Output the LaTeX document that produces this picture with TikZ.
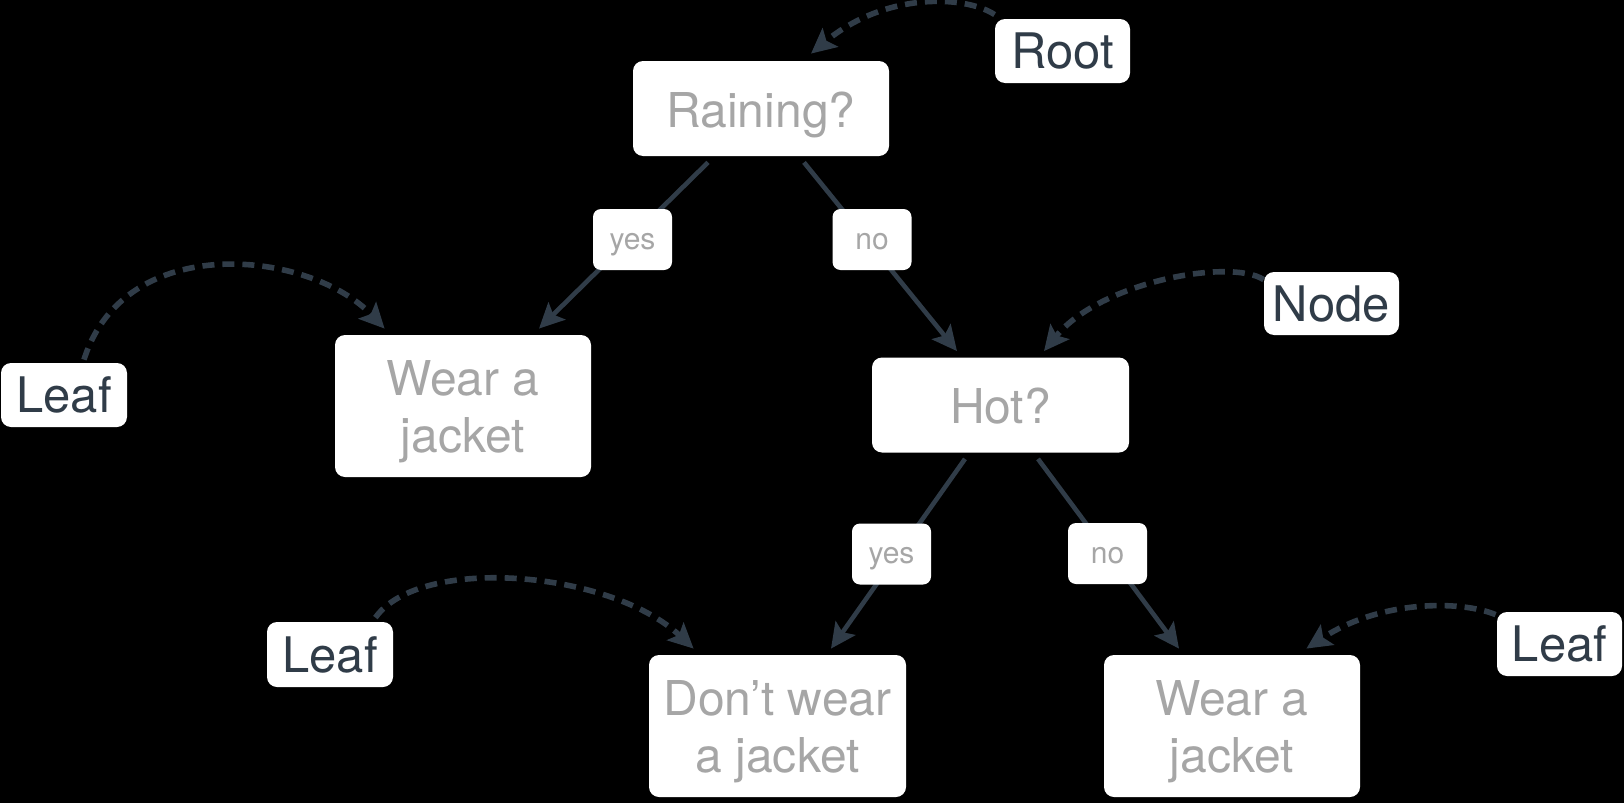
\documentclass[tikz,border=0pt]{standalone}
\usepackage{fontspec}
\setmainfont{TeX Gyre Heros}
\usetikzlibrary{arrows.meta,calc}
\definecolor{ink}{HTML}{303C48}
\definecolor{txtgray}{HTML}{A6A6A6}
\begin{document}
\begin{tikzpicture}[x=0.5pt,y=-0.5pt,
  bigbox/.style={fill=white, rounded corners=5pt, inner sep=0pt, align=center,
    text=txtgray, font=\fontsize{24}{28.5}\selectfont, minimum width=128pt},
  onebox/.style={bigbox, minimum height=47.5pt, text height=18.7pt, text depth=0pt},
  twobox/.style={bigbox, minimum height=71pt, text height=46.8pt, text depth=0pt},
  tagbox/.style={fill=white, rounded corners=5pt, inner sep=0pt, text=ink,
    font=\fontsize{24.5}{28.5}\selectfont, minimum height=32pt,
    text height=17.6pt, text depth=0pt},
  lblbox/.style={fill=white, rounded corners=4pt, inner sep=0pt, text=txtgray,
    font=\fontsize{15}{18}\selectfont, minimum width=39.5pt, minimum height=30.5pt,
    text height=9.8pt, text depth=0pt},
  edge/.style={draw=ink, line width=2.3pt, -{Stealth[length=12.5pt,width=12pt,inset=2.5pt]}},
  dedge/.style={draw=ink, line width=2.8pt, dash pattern=on 6pt off 4pt,
    -{Stealth[length=12.5pt,width=12pt,inset=2.5pt]}}
]
\fill[black] (0,0) rectangle (1624,803);
\useasboundingbox (0,0) rectangle (1624,803);

% main boxes
\node[onebox] (rain) at (761,108.5) {Raining?};
\node[twobox] (wl) at (463,406) {Wear a\\jacket};
\node[onebox, minimum width=128.5pt] (hot) at (1000.5,405) {Hot?};
\node[twobox, minimum width=128.5pt] (dont) at (777.5,726) {Don’t wear\\a jacket};
\node[twobox] (wr) at (1232,726) {Wear a\\jacket};

% tags
\node[tagbox, minimum width=67.5pt] (root) at (1062.5,51) {Root};
\node[tagbox, minimum width=63pt] (leafL) at (64,395) {Leaf};
\node[tagbox, minimum width=67.5pt, minimum height=31.5pt] (nodetag) at (1331.5,303.5) {Node};
\node[tagbox, minimum width=63pt, minimum height=32.5pt] (leafB) at (330,654.5) {Leaf};
\node[tagbox, minimum width=62.5pt] (leafR) at (1559.5,644) {Leaf};

% tree edges
\draw[edge] ($(rain.south)+(-53,6)$) -- ($(wl.north)+(76,-6)$);
\draw[edge] ($(rain.south)+(43,6)$) -- ($(hot.north)+(-43.5,-6)$);
\draw[edge] ($(hot.south)+(-35.5,6)$) -- ($(dont.north)+(53.5,-6)$);
\draw[edge] ($(hot.south)+(37.5,6)$) -- ($(wr.north)+(-53,-6)$);

% edge labels
\node[lblbox] (yes1) at (632.5,239.5) {yes};
\node[lblbox] (no1) at (872,239.5) {no};
\node[lblbox] (yes2) at (891.5,554) {yes};
\node[lblbox] (no2) at (1107.5,553.5) {no};

% dashed pointers
\draw[dedge] ($(root.north west)+(0,-4)$) .. controls (965,-5) and (885,-8) .. ($(rain.north)+(50,-7)$);
\draw[dedge] ($(leafL.north)+(20,-3)$) .. controls (125,230) and (310,250) .. ($(wl.north west)+(50,-6)$);
\draw[dedge] ($(nodetag.north west)+(0,8)$) .. controls (1230,258) and (1100,282) .. ($(hot.north)+(43.5,-6)$);
\draw[dedge] ($(leafB.north east)+(-18,-4)$) .. controls (420,555) and (610,570) .. ($(dont.north west)+(45,-6)$);
\draw[dedge] ($(leafR.north west)+(-1,3)$) .. controls (1460,600) and (1380,600) .. ($(wr.north east)+(-54,-6)$);
\end{tikzpicture}
\end{document}
